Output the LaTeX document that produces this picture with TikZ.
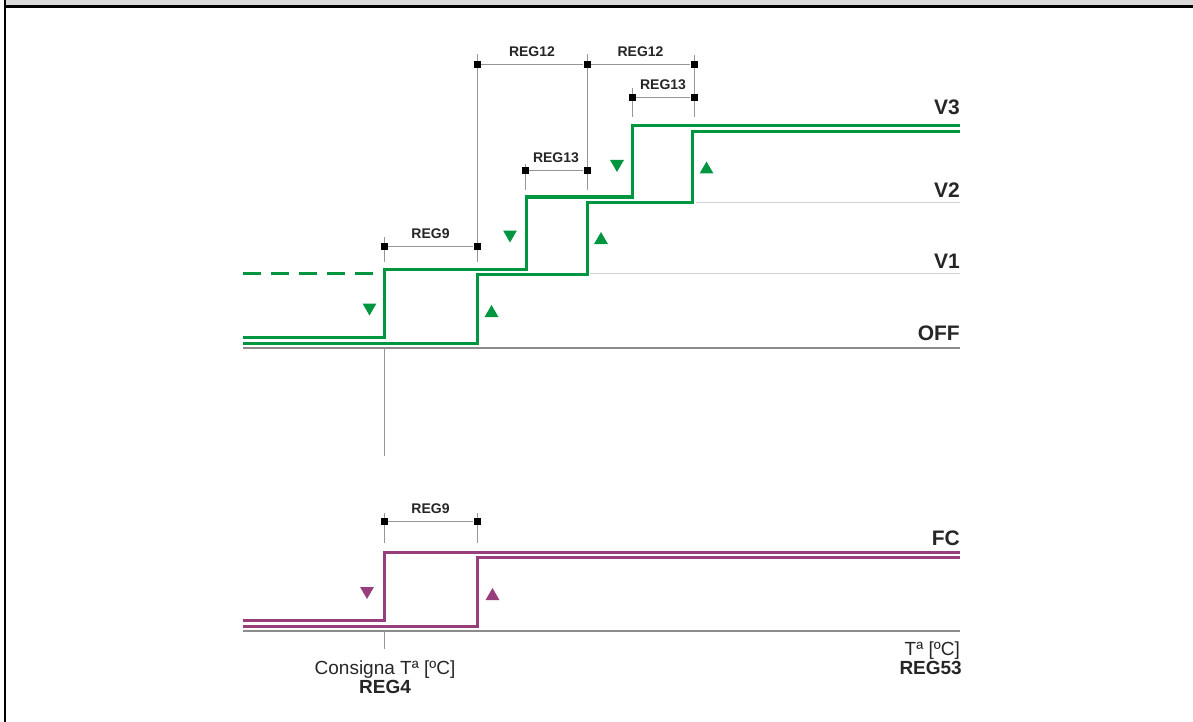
\documentclass[tikz,border=0pt]{standalone}
\usepackage{fontspec}
\setmainfont{Liberation Sans}
\usepackage{tikz}
\usetikzlibrary{shapes.geometric, positioning}

\definecolor{vertv}{RGB}{0,150,64}
\definecolor{violetfc}{RGB}{152,62,124}
\definecolor{grisniv}{RGB}{140,140,140}
\definecolor{grisclair}{RGB}{210,210,210}
\definecolor{griscote}{RGB}{150,150,150}
\definecolor{grisbande}{RGB}{217,217,217}

\tikzset{
  palier/.style={line width=3pt},
  niveau/.style={draw=grisniv, line width=1.2pt},
  niveauclair/.style={draw=grisclair, line width=1pt},
  cote/.style={draw=griscote, line width=1pt},
  borne/.style={rectangle, fill=black, inner sep=0pt, minimum size=7pt},
  monte/.style={regular polygon, regular polygon sides=3, inner sep=0pt, minimum size=16pt},
  descend/.style={monte, shape border rotate=180},
  nomniv/.style={anchor=base east, inner sep=0pt, text=black!85,
    font=\fontsize{21}{24}\selectfont\bfseries},
  nomcote/.style={anchor=base, inner sep=0pt, yshift=8pt, text=black!85,
    font=\fontsize{14}{16}\selectfont\bfseries},
  legende/.style={anchor=base, inner sep=0pt, text=black!85,
    font=\fontsize{19}{22}\selectfont},
  legendegras/.style={legende, font=\fontsize{19}{22}\selectfont\bfseries},
}

\begin{document}
\begin{tikzpicture}[x=1pt, y=-1pt]
        \useasboundingbox (0,0) rectangle (1193,722);

        % Cadre
        \fill[grisbande] (6,0) rectangle (1193,5.5);
        \draw[line width=2.5pt] (4,6.5) -- (1193,6.5);
        \draw[line width=2pt] (5.3,0) -- (5.3,722);

        % Niveaux
        \draw[niveau] (243,348) -- (960,348);
        \draw[niveauclair] (590,273) -- (960,273);
        \draw[niveauclair] (696,202) -- (960,202);
        \draw[niveau] (243,631) -- (960,631);

        % Reperes
        \draw[cote] (384,349) -- (384,456);
        \draw[cote] (384,631) -- (384,649);
        \draw[cote] (384,237) -- (384,262);
        \draw[cote] (477,54) -- (477,262);
        \draw[cote] (587,54) -- (587,190);
        \draw[cote] (694,55) -- (694,117);
        \draw[cote] (632,88) -- (632,117);
        \draw[cote] (525,164) -- (525,190);
        \draw[cote] (384,513) -- (384,543);
        \draw[cote] (477,513) -- (477,543);

        % Cotes
        \node[borne] (s9a) at (384,246) {};
        \node[borne] (s9b) at (477,246) {};
        \node[borne] (s12a) at (477,65) {};
        \node[borne] (s12b) at (587,65) {};
        \node[borne] (s12c) at (694,65) {};
        \node[borne] (s13a) at (632,98) {};
        \node[borne] (s13b) at (694,98) {};
        \node[borne] (s13c) at (525,171) {};
        \node[borne] (s13d) at (587,171) {};
        \node[borne] (f9a) at (384,521) {};
        \node[borne] (f9b) at (477,521) {};
        \draw[cote] (s9a) -- node[nomcote] (t9) {REG9} (s9b);
        \draw[cote] (s12a) -- node[nomcote] (t12a) {REG12} (s12b);
        \draw[cote] (s12b) -- node[nomcote] (t12b) {REG12} (s12c);
        \draw[cote] (s13a) -- node[nomcote] (t13a) {REG13} (s13b);
        \draw[cote] (s13c) -- node[nomcote] (t13b) {REG13} (s13d);
        \draw[cote] (f9a) -- node[nomcote] (u9) {REG9} (f9b);

        % Vitesses
        \draw[palier, vertv, dash pattern=on 18pt off 10pt] (243,273) -- (378,273);
        \draw[palier, vertv] (243,337) -| (384,269) -| (526,197) -| (632,125.5) -- (960,125.5);
        \draw[palier, vertv] (243,343) -| (477,274) -| (587,202) -| (692,131.5) -- (960,131.5);

        % FC
        \draw[palier, violetfc] (243,620) -| (384,552) -- (960,552);
        \draw[palier, violetfc] (243,626) -| (477,557) -- (960,557);

        % Fleches
        \node[descend, fill=vertv] (d1) at (369.5,307.5) {};
        \node[monte, fill=vertv] (m1) at (491.5,313) {};
        \node[descend, fill=vertv] (d2) at (510,234.5) {};
        \node[monte, fill=vertv] (m2) at (601,240) {};
        \node[descend, fill=vertv] (d3) at (617,164) {};
        \node[monte, fill=vertv] (m3) at (706.5,169.5) {};
        \node[descend, fill=violetfc] (d4) at (367,591) {};
        \node[monte, fill=violetfc] (m4) at (492.5,596) {};

        % Labels
        \node[nomniv] (v3) at (960,115) {V3};
        \node[nomniv] (v2) at (960,197) {V2};
        \node[nomniv] (v1) at (960,268) {V1};
        \node[nomniv] (off) at (960,340) {OFF};
        \node[nomniv] (fc) at (960,545) {FC};
        \node[legende] (consigne) at (385,674) {Consigna Tª [ºC]};
        \node[legendegras] (reg4) at (385,693) {REG4};
        \node[legende, anchor=base east] (temp) at (960,655) {Tª [ºC]};
        \node[legendegras, anchor=base east] (reg53) at (962,674) {REG53};
    \end{tikzpicture}
\end{document}
